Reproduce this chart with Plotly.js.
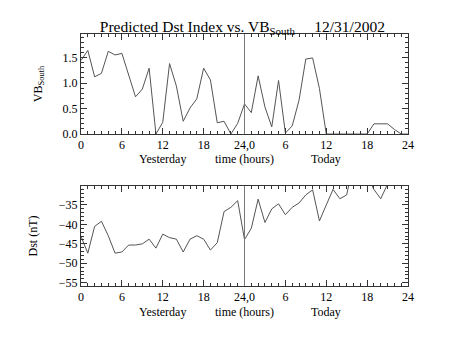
<!DOCTYPE html>
<html>
<head>
<meta charset="utf-8">
<script src="https://cdn.plot.ly/plotly-3.0.1.min.js"></script>
<style>html,body{margin:0;padding:0;background:#fff;}#chart{width:453px;height:340px;}</style>
</head>
<body>
<div id="chart"></div>
<script>
// Hours: 0-24 = yesterday, 24-48 = today
const hours = [0,1,2,3,4,5,6,7,8,9,10,11,12,13,14,15,16,17,18,19,20,21,22,23,24,
               25,26,27,28,29,30,31,32,33,34,35,36,37,38,39,40,41,42,43,44,45,46,47,48];
const vbSouth = [1.44,1.64,1.12,1.19,1.62,1.55,1.58,1.13,0.73,0.88,1.29,0.0,0.23,1.38,0.94,0.25,0.51,0.69,1.29,1.06,0.22,0.25,0.0,0.21,0.59,
                 0.42,1.14,0.53,0.14,1.05,0.02,0.16,0.66,1.47,1.49,0.89,0.0,0.0,0.0,0.0,0.0,0.0,0.0,0.2,0.2,0.2,0.09,0.0,0.0];
const dst = [-43.1,-47.4,-40.5,-39.2,-42.9,-47.4,-47.1,-45.3,-45.3,-45.0,-43.8,-46.1,-42.5,-43.4,-43.8,-47.1,-43.8,-42.9,-43.8,-46.6,-44.7,-36.7,-35.6,-33.9,-43.9,
             -41.0,-33.5,-39.5,-36.0,-34.7,-37.5,-35.6,-34.5,-32.4,-31.1,-39.1,-35.0,-31.0,-33.4,-32.4,-24.0,-25.0,-27.5,-31.0,-33.4,-29.6,-28.0,-27.0,-28.0];
const xTickVals = [0,6,12,18,24,30,36,42,48];
const xTickText = ["0","6","12","18","24,0","6","12","18","24"];
const dividerHour = 24;
const dayLabels = ["Yesterday","time (hours)","Today"];
const dayLabelHours = [12,24,36];

const FONT = "Liberation Serif, DejaVu Serif, serif";
const AX = "#333";
const LINE = "#555";

function xaxis(anchor){
  return {
    range:[0,48], anchor:anchor, tickmode:'array', tickvals:xTickVals, ticktext:xTickText,
    ticks:'inside', ticklen:6, tickcolor:AX, tickwidth:1,
    minor:{dtick:1, ticks:'inside', ticklen:3, tickcolor:AX, tickwidth:1},
    showline:true, linecolor:AX, linewidth:1, mirror:'ticks',
    showgrid:false, zeroline:false, tickfont:{family:FONT,size:12,color:'#000'}
  };
}

const traces = [
  {x:hours, y:vbSouth, xaxis:'x', yaxis:'y', mode:'lines', line:{color:LINE,width:1}, hoverinfo:'skip'},
  {x:hours, y:dst, xaxis:'x2', yaxis:'y2', mode:'lines', line:{color:LINE,width:1}, hoverinfo:'skip'}
];

const annotations = [];
dayLabels.forEach((t,i)=>{
  annotations.push({text:t, x:dayLabelHours[i], xref:'x', y:0.503, yref:'paper', showarrow:false,
    font:{family:FONT,size:12,color:'#000'}, xanchor:'center', yanchor:'middle'});
  annotations.push({text:t, x:dayLabelHours[i], xref:'x2', y:-0.103, yref:'paper', showarrow:false,
    font:{family:FONT,size:12,color:'#000'}, xanchor:'center', yanchor:'middle'});
});

const layout = {
  width:453, height:340, paper_bgcolor:'#fff', plot_bgcolor:'#fff', showlegend:false,
  margin:{l:81, r:45, t:34, b:54, pad:0},
  title:{text:'Predicted Dst Index vs. VB<sub>South</sub>\u00A0\u00A0\u00A0\u00A0\u00A012/31/2002',
    font:{family:FONT,size:15.5,color:'#000'}, x:0.535, xanchor:'center', y:0.922, yanchor:'middle'},
  xaxis: xaxis('y'),
  xaxis2: xaxis('y2'),
  yaxis:{domain:[0.603,1], range:[0,1.96], anchor:'x', tickvals:[0,0.5,1,1.5], tickformat:'.1f',
    ticks:'inside', ticklen:6, tickcolor:AX,
    minor:{dtick:0.1, ticks:'inside', ticklen:3, tickcolor:AX},
    showline:true, linecolor:AX, linewidth:1, mirror:'ticks', showgrid:false, zeroline:false,
    tickfont:{family:FONT,size:12,color:'#000'},
    title:{text:'VB<sub>South</sub>', font:{family:FONT,size:12,color:'#000'}, standoff:17}},
  yaxis2:{domain:[0,0.397], range:[-55.85,-30.1], anchor:'x2', tickvals:[-55,-50,-45,-40,-35],
    ticks:'inside', ticklen:6, tickcolor:AX,
    minor:{dtick:1, ticks:'inside', ticklen:3, tickcolor:AX},
    showline:true, linecolor:AX, linewidth:1, mirror:'ticks', showgrid:false, zeroline:false,
    tickfont:{family:FONT,size:12,color:'#000'},
    title:{text:'Dst (nT)', font:{family:FONT,size:12,color:'#000'}, standoff:18}},
  shapes:[
    {type:'line', xref:'x', x0:dividerHour, x1:dividerHour, yref:'y domain', y0:0, y1:1, line:{color:'#777',width:1}},
    {type:'line', xref:'x2', x0:dividerHour, x1:dividerHour, yref:'y2 domain', y0:0, y1:1, line:{color:'#777',width:1}}
  ],
  annotations: annotations
};

Plotly.newPlot('chart', traces, layout, {staticPlot:true, displayModeBar:false});
</script>
</body>
</html>
